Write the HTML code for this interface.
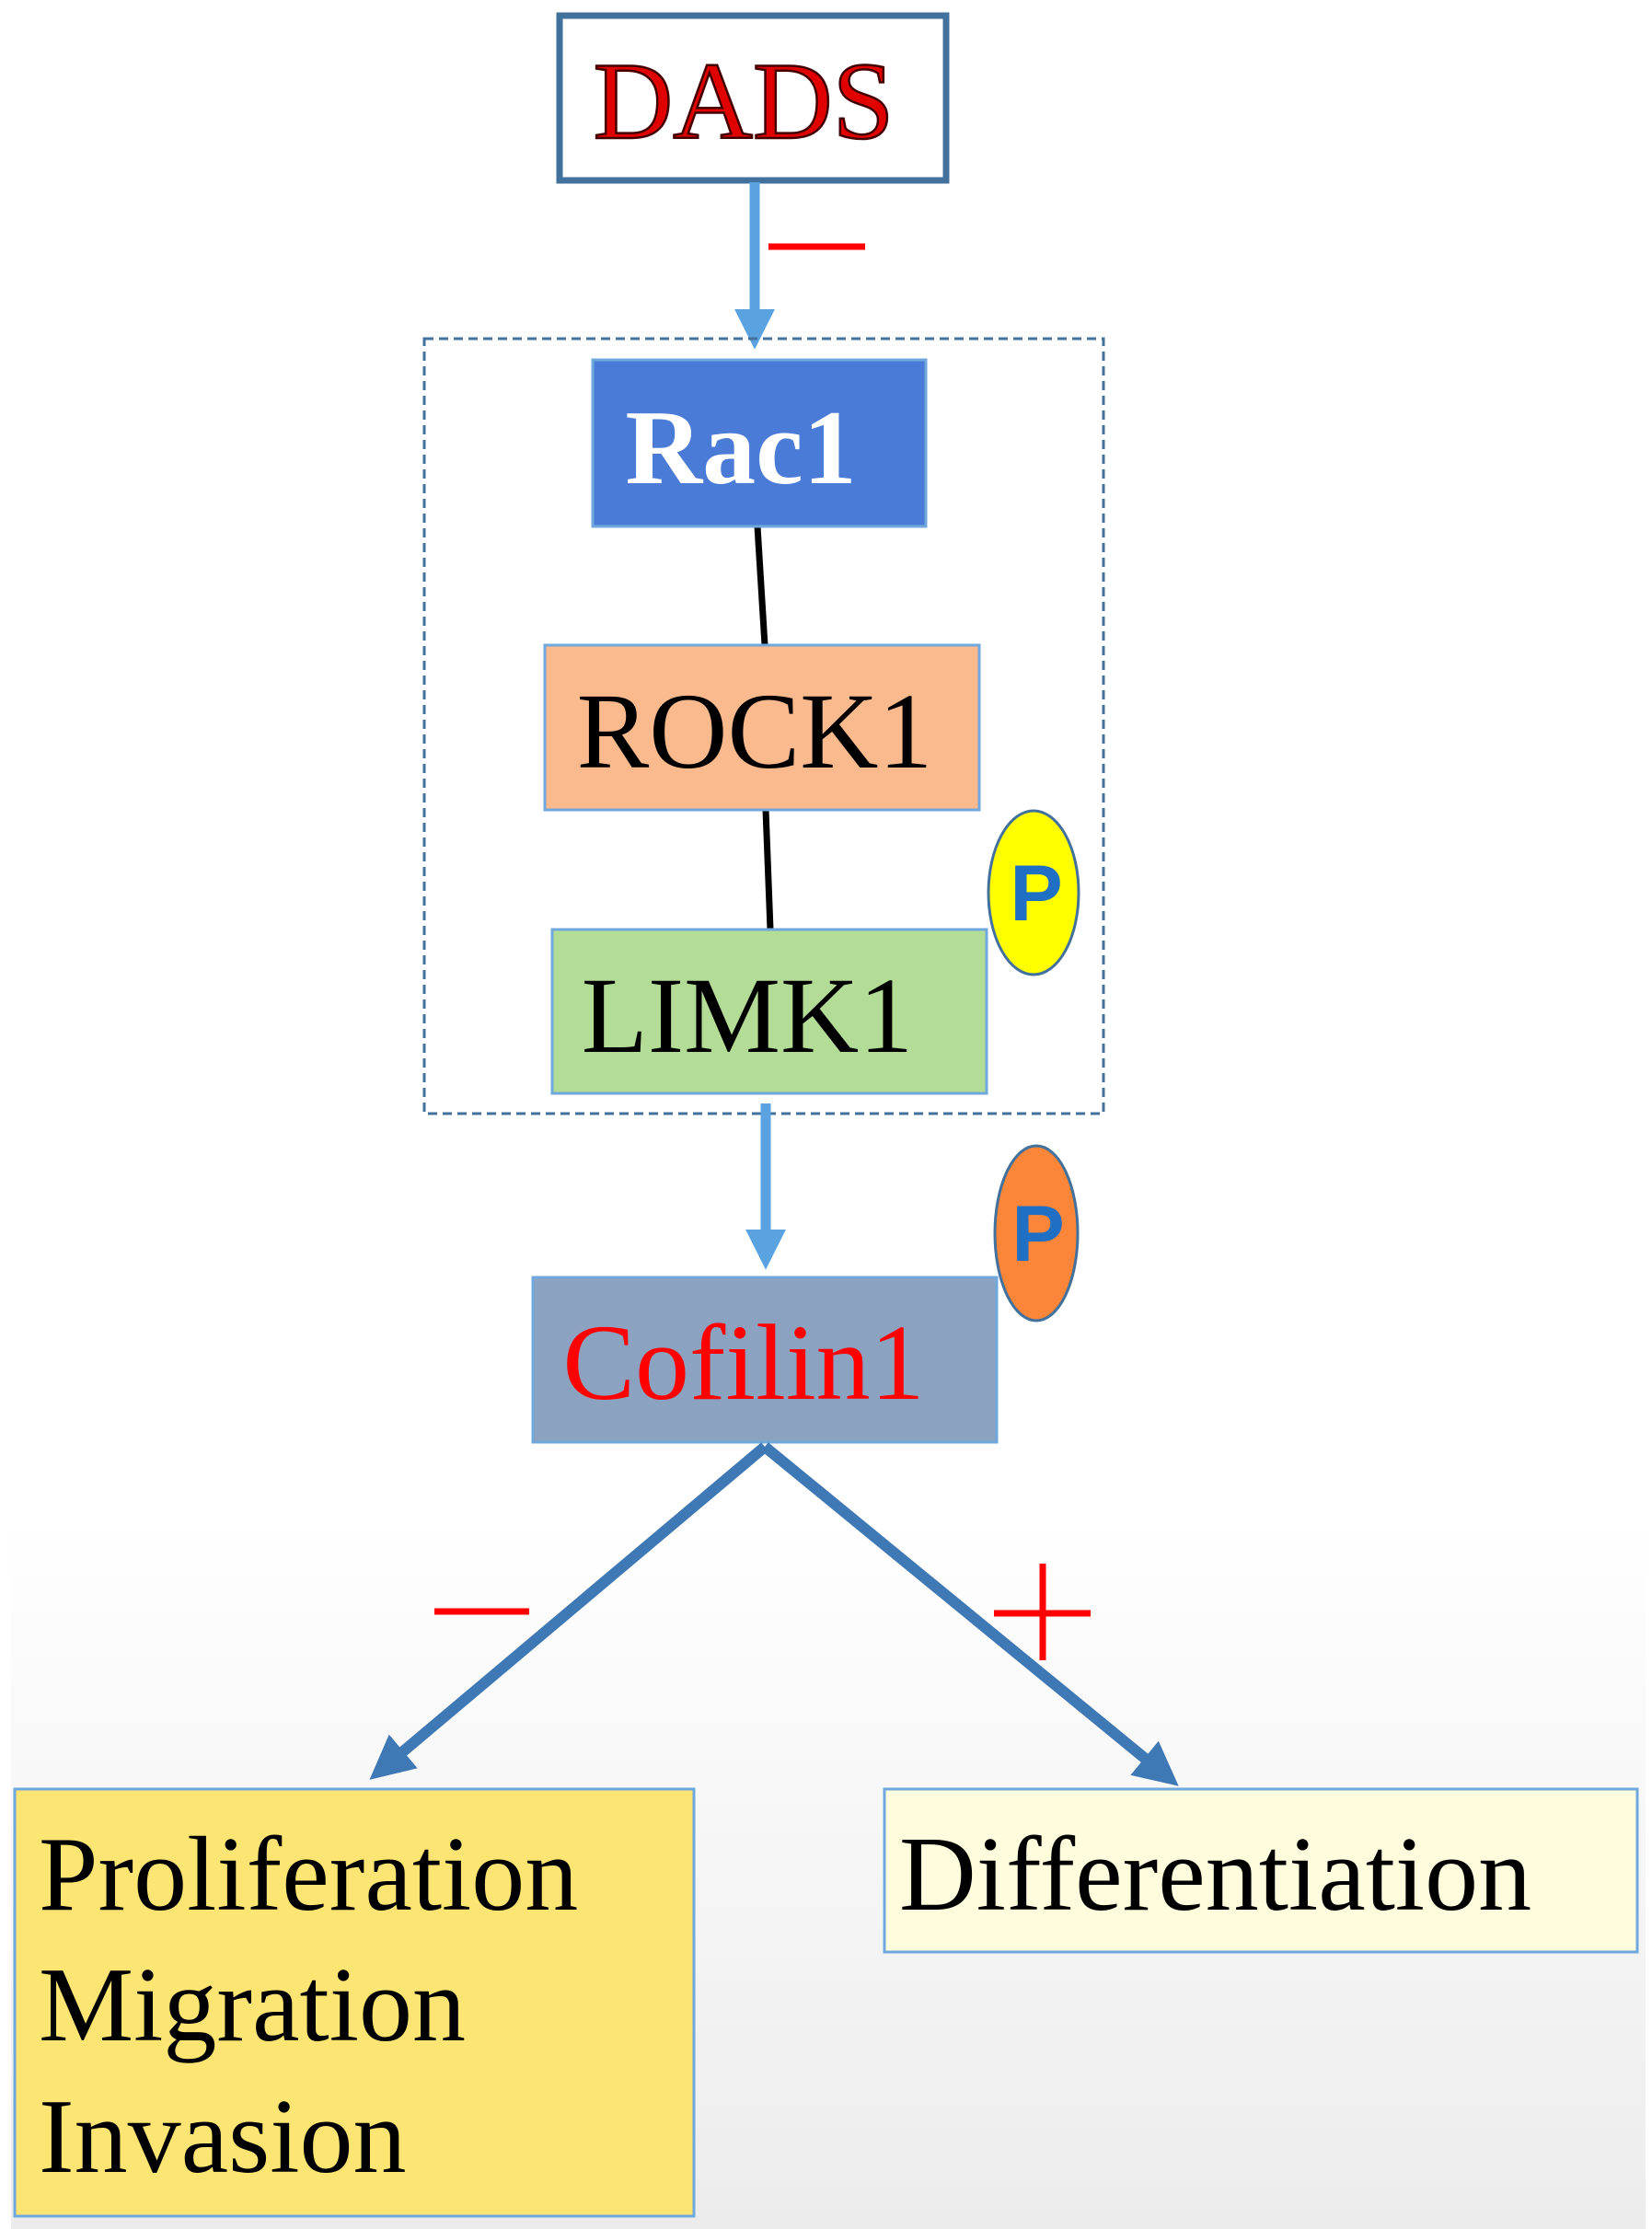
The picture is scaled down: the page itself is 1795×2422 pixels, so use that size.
<!DOCTYPE html>
<html><head><meta charset="utf-8"><style>
html,body{margin:0;padding:0;background:#fff;}
svg{display:block;}
text{font-family:"Liberation Serif",serif;}
</style></head><body>
<svg width="1795" height="2422" viewBox="0 0 1795 2422" xmlns="http://www.w3.org/2000/svg">
<defs>
<linearGradient id="bg" x1="0" y1="0" x2="0" y2="1">
<stop offset="0" stop-color="#ffffff"/><stop offset="1" stop-color="#ececec"/>
</linearGradient>
<marker id="ah" markerWidth="4" markerHeight="4" refX="2.2" refY="2" orient="auto" markerUnits="strokeWidth">
<path d="M0,0 L4,2 L0,4 z" fill="#5ba3e0"/></marker>
<marker id="ah2" markerWidth="4" markerHeight="4" refX="2.2" refY="2" orient="auto" markerUnits="strokeWidth">
<path d="M0,0 L4,2 L0,4 z" fill="#3e78b5"/></marker>
</defs>
<rect x="12" y="1648" width="1776" height="774" fill="url(#bg)"/>
<rect x="608" y="17" width="420" height="179" fill="#fff" stroke="#41719c" stroke-width="7"/>
<text x="808" y="150" font-size="120" text-anchor="middle" fill="#e00000" stroke="#400" stroke-width="2.5">DADS</text>
<line x1="820" y1="198" x2="820" y2="360" stroke="#5ba3e0" stroke-width="11" marker-end="url(#ah)"/>
<line x1="835" y1="268" x2="940" y2="268" stroke="#f00" stroke-width="7"/>
<rect x="461" y="368" width="738" height="842" fill="none" stroke="#41719c" stroke-width="3" stroke-dasharray="10,6"/>
<line x1="823" y1="572" x2="831" y2="701" stroke="#000" stroke-width="7"/>
<line x1="832" y1="880" x2="837" y2="1010" stroke="#000" stroke-width="7"/>
<rect x="644" y="391" width="362" height="181" fill="#4a7bd6" stroke="#6fa8dc" stroke-width="3"/>
<text x="805" y="525" font-size="116" font-weight="bold" text-anchor="middle" fill="#fff">Rac1</text>
<rect x="592" y="701" width="472" height="179" fill="#fbb98e" stroke="#6fa8dc" stroke-width="3"/>
<text x="820" y="834" font-size="118" text-anchor="middle" fill="#000">ROCK1</text>
<rect x="600" y="1010" width="472" height="178" fill="#b3dc97" stroke="#6fa8dc" stroke-width="3"/>
<text x="812" y="1143" font-size="118" text-anchor="middle" fill="#000">LIMK1</text>
<ellipse cx="1123" cy="970" rx="49" ry="89" fill="#ffff00" stroke="#41719c" stroke-width="3"/>
<text x="1126" y="1000" font-size="86" font-weight="bold" text-anchor="middle" fill="#1f6fc5" style="font-family:'Liberation Sans',sans-serif">P</text>
<line x1="832" y1="1199" x2="832" y2="1360" stroke="#5ba3e0" stroke-width="11" marker-end="url(#ah)"/>
<ellipse cx="1126" cy="1340" rx="45" ry="95" fill="#fb8538" stroke="#41719c" stroke-width="3"/>
<text x="1128" y="1370" font-size="86" font-weight="bold" text-anchor="middle" fill="#1f6fc5" style="font-family:'Liberation Sans',sans-serif">P</text>
<rect x="579" y="1388" width="504" height="179" fill="#8ba3c0" stroke="#6fa8dc" stroke-width="3"/>
<text x="808" y="1520" font-size="118" text-anchor="middle" fill="#f00">Cofilin1</text>
<line x1="831" y1="1572" x2="418" y2="1920" stroke="#3e78b5" stroke-width="12" marker-end="url(#ah2)"/>
<line x1="831" y1="1572" x2="1264" y2="1927" stroke="#3e78b5" stroke-width="12" marker-end="url(#ah2)"/>
<line x1="472" y1="1751" x2="575" y2="1751" stroke="#f00" stroke-width="7"/>
<line x1="1080" y1="1753" x2="1185" y2="1753" stroke="#f00" stroke-width="7"/>
<line x1="1133" y1="1699" x2="1133" y2="1804" stroke="#f00" stroke-width="7"/>
<rect x="16" y="1944" width="738" height="464" fill="#fde574" stroke="#6fa8dc" stroke-width="3"/>
<text x="42" y="2075" font-size="116" fill="#000">Proliferation</text>
<text x="42" y="2217" font-size="116" fill="#000">Migration</text>
<text x="42" y="2360" font-size="116" fill="#000">Invasion</text>
<rect x="961" y="1944" width="818" height="177" fill="#fffbdd" stroke="#6fa8dc" stroke-width="3"/>
<text x="977" y="2075" font-size="116" fill="#000">Differentiation</text>
</svg>
</body></html>
